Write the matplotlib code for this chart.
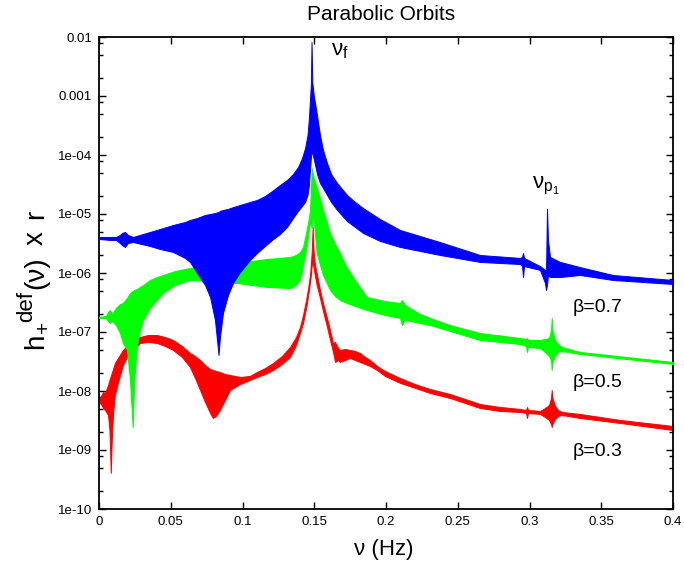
import matplotlib
matplotlib.use('Agg')
import matplotlib.pyplot as plt
from matplotlib.ticker import FixedLocator, LogLocator, NullFormatter, FixedFormatter

plt.rcParams['font.family'] = ['Liberation Sans', 'DejaVu Sans']
plt.rcParams['mathtext.fontset'] = 'custom'
plt.rcParams['mathtext.rm'] = 'Liberation Sans'
plt.rcParams['mathtext.it'] = 'Liberation Sans'
plt.rcParams['mathtext.bf'] = 'Liberation Sans:bold'

# ---------------- data (oscillation envelopes) ----------------
# beta = 0.7 (blue)
nu_b = [0, 0.0077, 0.0118, 0.0146, 0.0160, 0.0181, 0.0202, 0.0237, 0.0355, 0.0425,
        0.0516, 0.0599, 0.0634, 0.0683, 0.0739, 0.0774, 0.0808, 0.0833, 0.0843, 0.0864,
        0.0899, 0.0934, 0.0983, 0.1052, 0.1101, 0.1157, 0.1206, 0.1261, 0.1310, 0.1352,
        0.1387, 0.1415, 0.1436, 0.1453, 0.1463, 0.1470, 0.1477, 0.1481, 0.1487, 0.1498,
        0.1509, 0.1519, 0.1540, 0.1561, 0.1589, 0.1617, 0.1659, 0.1728, 0.1784, 0.1840,
        0.1958, 0.2098, 0.2376, 0.2655, 0.2934, 0.2948, 0.2955, 0.2962, 0.3073, 0.3108,
        0.3115, 0.3122, 0.3129, 0.3143, 0.3213, 0.3352, 0.3582, 0.4]
hi_b = [4.08e-6, 4.08e-6, 4.08e-6, 4.41e-6, 4.77e-6, 4.96e-6, 4.41e-6, 4.08e-6, 4.96e-6, 5.57e-6,
        6.51e-6, 7.32e-6, 7.91e-6, 8.55e-6, 9.62e-6, 1.0e-5, 1.04e-5, 1.08e-5, 1.13e-5, 1.17e-5,
        1.22e-5, 1.31e-5, 1.42e-5, 1.60e-5, 1.73e-5, 2.02e-5, 2.45e-5, 3.10e-5, 3.77e-5, 4.77e-5,
        6.26e-5, 8.90e-5, 1.31e-4, 2.18e-4, 4.24e-4, 8.55e-4, 1.66e-3, 8.23e-3, 1.66e-3, 9.62e-4,
        6.77e-4, 4.77e-4, 2.18e-4, 1.22e-4, 7.32e-5, 4.77e-5, 3.35e-5, 2.10e-5, 1.60e-5, 1.26e-5,
        8.23e-6, 5.36e-6, 3.35e-6, 2.02e-6, 1.80e-6, 1.87e-6, 2.18e-6, 1.80e-6, 1.31e-6, 1.13e-6,
        1.04e-6, 1.22e-5, 3.63e-6, 1.87e-6, 1.54e-6, 1.26e-6, 9.25e-7, 7.61e-7]
lo_b = [3.77e-6, 3.63e-6, 3.63e-6, 3.23e-6, 2.98e-6, 2.76e-6, 3.23e-6, 3.35e-6, 2.87e-6, 2.55e-6,
        2.27e-6, 1.80e-6, 1.54e-6, 1.0e-6, 6.26e-7, 3.92e-7, 1.60e-7, 4.08e-8, 8.23e-8, 2.10e-7,
        4.24e-7, 6.77e-7, 1.04e-6, 1.66e-6, 2.18e-6, 2.87e-6, 3.63e-6, 4.58e-6, 6.02e-6, 8.55e-6,
        1.13e-5, 1.37e-5, 1.60e-5, 2.10e-5, 3.10e-5, 5.57e-5, 9.25e-5, 1.08e-4, 1.08e-4, 8.23e-5,
        6.26e-5, 4.77e-5, 3.35e-5, 2.76e-5, 2.10e-5, 1.60e-5, 1.17e-5, 7.61e-6, 6.02e-6, 4.77e-6,
        3.49e-6, 2.76e-6, 2.02e-6, 1.54e-6, 1.42e-6, 1.31e-6, 8.55e-7, 1.31e-6, 1.13e-6, 6.77e-7,
        5.15e-7, 6.26e-7, 9.25e-7, 8.55e-7, 8.55e-7, 9.25e-7, 7.61e-7, 6.51e-7]

# beta = 0.5 (green)
nu_g = [0, 0.0049, 0.0063, 0.0077, 0.0091, 0.0118, 0.0146, 0.0167, 0.0195, 0.0216,
        0.0235, 0.0246, 0.0263, 0.0286, 0.0307, 0.0355, 0.0404, 0.0446, 0.0530, 0.0634,
        0.0774, 0.0962, 0.1171, 0.1331, 0.1373, 0.1401, 0.1422, 0.1447, 0.1463, 0.1470,
        0.1477, 0.1482, 0.1488, 0.1493, 0.1505, 0.1517, 0.1540, 0.1561, 0.1587, 0.1610,
        0.1645, 0.1679, 0.1726, 0.1784, 0.1866, 0.1993, 0.2098, 0.2111, 0.2132, 0.2237,
        0.2307, 0.2446, 0.2655, 0.2934, 0.2976, 0.2983, 0.2990, 0.3073, 0.3108, 0.3136,
        0.3150, 0.3155, 0.3160, 0.3178, 0.3199, 0.3226, 0.3352, 0.4]
hi_g = [1.80e-7, 1.87e-7, 2.18e-7, 2.36e-7, 2.02e-7, 2.55e-7, 2.98e-7, 3.10e-7, 3.77e-7, 4.58e-7,
        4.96e-7, 5.15e-7, 5.36e-7, 5.79e-7, 6.26e-7, 7.61e-7, 8.55e-7, 9.25e-7, 1.08e-6, 1.22e-6,
        1.31e-6, 1.48e-6, 1.73e-6, 1.87e-6, 2.02e-6, 2.27e-6, 2.76e-6, 5.36e-6, 8.55e-6, 1.17e-5,
        2.55e-5, 6.02e-5, 5.15e-5, 4.41e-5, 3.49e-5, 2.87e-5, 1.87e-5, 1.17e-5, 7.32e-6, 4.77e-6,
        3.10e-6, 2.18e-6, 1.26e-6, 7.61e-7, 3.92e-7, 3.35e-7, 3.10e-7, 3.49e-7, 2.87e-7, 2.02e-7,
        1.73e-7, 1.31e-7, 9.62e-8, 7.91e-8, 7.61e-8, 7.91e-8, 7.32e-8, 7.32e-8, 7.61e-8, 7.91e-8,
        1.08e-7, 1.73e-7, 1.08e-7, 7.32e-8, 6.26e-8, 5.57e-8, 4.58e-8, 3.10e-8]
lo_g = [1.73e-7, 1.73e-7, 1.54e-7, 1.42e-7, 1.54e-7, 1.31e-7, 9.62e-8, 6.51e-8, 4.96e-8, 1.54e-8,
        2.45e-9, 1.54e-8, 5.57e-8, 1.08e-7, 1.60e-7, 2.55e-7, 3.49e-7, 4.58e-7, 6.26e-7, 7.61e-7,
        7.32e-7, 6.77e-7, 5.79e-7, 5.57e-7, 6.26e-7, 7.61e-7, 1.37e-6, 2.76e-6, 5.36e-6, 7.32e-6,
        6.51e-6, 5.79e-6, 7.91e-6, 1.04e-5, 4.41e-6, 2.18e-6, 1.37e-6, 9.25e-7, 6.77e-7, 5.15e-7,
        4.08e-7, 3.49e-7, 3.10e-7, 2.76e-7, 2.36e-7, 1.94e-7, 1.73e-7, 1.31e-7, 1.60e-7, 1.42e-7,
        1.31e-7, 1.04e-7, 7.32e-8, 6.26e-8, 5.79e-8, 4.58e-8, 5.57e-8, 5.36e-8, 4.58e-8, 3.92e-8,
        3.35e-8, 2.27e-8, 3.10e-8, 3.92e-8, 4.58e-8, 4.77e-8, 4.24e-8, 2.87e-8]

# beta = 0.3 (red)
nu_r = [0, 0.0014, 0.0028, 0.0042, 0.0063, 0.0073, 0.0082, 0.0089, 0.0098, 0.0111,
        0.0132, 0.0167, 0.0195, 0.0237, 0.0286, 0.0341, 0.0404, 0.0460, 0.0516, 0.0578,
        0.0634, 0.0669, 0.0704, 0.0739, 0.0774, 0.0794, 0.0815, 0.0843, 0.0878, 0.0913,
        0.0983, 0.1052, 0.1101, 0.1157, 0.1213, 0.1275, 0.1331, 0.1373, 0.1401, 0.1422,
        0.1447, 0.1463, 0.1474, 0.1483, 0.1489, 0.1495, 0.1505, 0.1517, 0.1540, 0.1561,
        0.1589, 0.1610, 0.1631, 0.1645, 0.1666, 0.1679, 0.1714, 0.1749, 0.1784, 0.1819,
        0.1854, 0.1889, 0.1937, 0.1993, 0.2098, 0.2202, 0.2307, 0.2446, 0.2655, 0.2794,
        0.2934, 0.2976, 0.2983, 0.2990, 0.3073, 0.3108, 0.3136, 0.3150, 0.3155, 0.3160,
        0.3178, 0.3199, 0.3226, 0.3352, 0.3631, 0.4]
hi_r = [7.04e-9, 8.23e-9, 9.62e-9, 9.25e-9, 1.26e-8, 1.54e-8, 1.80e-8, 2.02e-8, 2.36e-8, 2.98e-8,
        3.63e-8, 4.96e-8, 5.79e-8, 6.77e-8, 8.23e-8, 8.90e-8, 8.90e-8, 8.23e-8, 7.32e-8, 5.79e-8,
        4.41e-8, 3.92e-8, 3.35e-8, 2.76e-8, 2.36e-8, 2.27e-8, 2.18e-8, 2.10e-8, 1.94e-8, 1.87e-8,
        1.73e-8, 1.80e-8, 2.10e-8, 2.45e-8, 2.98e-8, 3.92e-8, 5.57e-8, 8.23e-8, 1.22e-7, 1.94e-7,
        3.92e-7, 6.77e-7, 1.13e-6, 2.45e-6, 6.02e-6, 2.45e-6, 1.37e-6, 1.0e-6, 5.15e-7, 3.10e-7,
        1.73e-7, 1.08e-7, 6.51e-8, 6.77e-8, 5.36e-8, 4.96e-8, 5.15e-8, 4.96e-8, 4.77e-8, 4.41e-8,
        3.77e-8, 3.35e-8, 2.65e-8, 2.18e-8, 1.66e-8, 1.31e-8, 1.08e-8, 8.90e-9, 6.02e-9, 5.36e-9,
        4.96e-9, 4.77e-9, 5.36e-9, 4.77e-9, 4.58e-9, 5.15e-9, 5.79e-9, 7.61e-9, 1.04e-8, 7.61e-9,
        5.57e-9, 4.77e-9, 4.41e-9, 4.08e-9, 3.23e-9, 2.55e-9]
lo_r = [6.51e-9, 6.02e-9, 5.15e-9, 4.77e-9, 3.92e-9, 2.18e-9, 4.08e-10, 1.48e-9, 4.24e-9, 8.55e-9,
        1.37e-8, 2.76e-8, 3.77e-8, 4.96e-8, 6.51e-8, 6.77e-8, 6.51e-8, 5.79e-8, 4.96e-8, 3.77e-8,
        2.55e-8, 1.66e-8, 1.04e-8, 6.51e-9, 4.24e-9, 3.49e-9, 3.77e-9, 4.77e-9, 7.04e-9, 1.04e-8,
        1.31e-8, 1.54e-8, 1.73e-8, 1.94e-8, 2.27e-8, 2.87e-8, 3.77e-8, 6.02e-8, 9.62e-8, 1.42e-7,
        2.87e-7, 5.15e-7, 8.23e-7, 1.37e-6, 1.54e-6, 1.26e-6, 8.90e-7, 6.26e-7, 3.77e-7, 2.27e-7,
        1.22e-7, 7.32e-8, 4.58e-8, 3.10e-8, 3.35e-8, 3.10e-8, 3.35e-8, 3.63e-8, 3.35e-8, 3.10e-8,
        2.87e-8, 2.65e-8, 2.27e-8, 1.80e-8, 1.37e-8, 1.13e-8, 9.25e-9, 7.61e-9, 5.15e-9, 4.58e-9,
        4.41e-9, 4.24e-9, 3.49e-9, 4.24e-9, 4.08e-9, 3.63e-9, 3.23e-9, 2.76e-9, 2.45e-9, 2.76e-9,
        3.35e-9, 3.77e-9, 3.92e-9, 3.49e-9, 2.87e-9, 2.18e-9]

x_ticks = [0, 0.05, 0.1, 0.15, 0.2, 0.25, 0.3, 0.35, 0.4]
x_labels = ['0', '0.05', '0.1', '0.15', '0.2', '0.25', '0.3', '0.35', '0.4']
y_ticks = [1e-2, 1e-3, 1e-4, 1e-5, 1e-6, 1e-7, 1e-8, 1e-9, 1e-10]
y_labels = ['0.01', '0.001', '1e-04', '1e-05', '1e-06', '1e-07', '1e-08', '1e-09', '1e-10']
series_labels = ['β=0.7', 'β=0.5', 'β=0.3']

# ---------------- figure ----------------
W, H = 684, 567
fig = plt.figure(figsize=(W / 100, H / 100), dpi=100)
ax = fig.add_axes([99 / W, 1 - 509 / H, 574 / W, 472 / H])

ax.fill_between(nu_r, lo_r, hi_r, color='#ff0000', lw=0.7, zorder=2)
ax.fill_between(nu_g, lo_g, hi_g, color='#00ff00', lw=0.7, zorder=3)
ax.fill_between(nu_b, lo_b, hi_b, color='#0000ff', lw=0.7, zorder=4)

ax.set_yscale('log')
ax.set_xlim(0, 0.4)
ax.set_ylim(1e-10, 1e-2)

ax.xaxis.set_major_locator(FixedLocator(x_ticks))
ax.xaxis.set_major_formatter(FixedFormatter(x_labels))
ax.yaxis.set_major_locator(FixedLocator(y_ticks))
ax.yaxis.set_major_formatter(FixedFormatter(y_labels))
ax.yaxis.set_minor_locator(LogLocator(base=10, subs=(2.0, 5.0, 8.0), numticks=20))
ax.yaxis.set_minor_formatter(NullFormatter())

ax.tick_params(which='both', direction='in', top=True, right=True, labelsize=9.5,
               colors='black', width=1.0)
ax.tick_params(which='major', length=5, pad=5)
ax.tick_params(which='minor', length=3)
for s in ax.spines.values():
    s.set_linewidth(1.3)

# annotations
ax.text(0.1617, 6.0e-3, r'$\mathregular{\nu_f}$', fontsize=16, ha='left', va='center')
ax.text(0.3017, 2.97e-5, r'$\mathregular{\nu_{p_1}}$', fontsize=16, ha='left', va='center')
ax.text(0.3303, 2.65e-7, series_labels[0], fontsize=14, ha='left', va='center')
ax.text(0.3303, 1.37e-8, series_labels[1], fontsize=14, ha='left', va='center')
ax.text(0.3303, 9.6e-10, series_labels[2], fontsize=14, ha='left', va='center')

fig.text(381 / W, 1 - 15 / H, 'Parabolic Orbits', fontsize=15, ha='center', va='center')
fig.text(384 / W, 1 - 549 / H, 'ν (Hz)', fontsize=16, ha='center', va='center')

# y-axis label built from pieces (gnuplot-like enhanced text)
ylabel_parts = [('h', 20, 43, 341), ('+', 15, 49, 327), ('def', 16, 32, 306),
                ('(ν)', 20, 43, 273), ('x', 20, 43, 238), ('r', 20, 43, 214)]
for txt, size, bx, cy in ylabel_parts:
    fig.text(bx / W, 1 - cy / H, txt, fontsize=size, rotation=90,
             rotation_mode='anchor', ha='center', va='baseline')

fig.savefig('out.png', dpi=100)
